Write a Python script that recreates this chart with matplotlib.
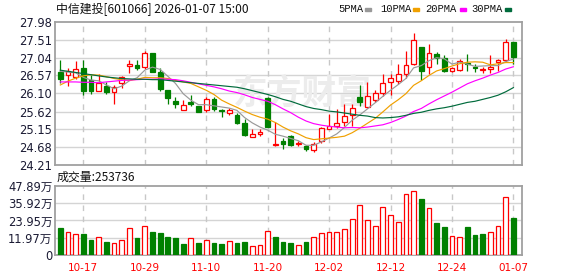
import matplotlib
matplotlib.use("Agg")
import matplotlib.pyplot as plt
import numpy as np

plt.rcParams['font.family'] = ['DejaVu Sans', 'Noto Sans CJK SC']

# ---------------- data ----------------
dates = ["10-14", "10-15", "10-16", "10-17", "10-20", "10-21", "10-22", "10-23", "10-24", "10-27",
         "10-28", "10-29", "10-30", "10-31", "11-03", "11-04", "11-05", "11-06", "11-07", "11-10",
         "11-11", "11-12", "11-13", "11-14", "11-17", "11-18", "11-19", "11-20", "11-21", "11-24",
         "11-25", "11-26", "11-27", "11-28", "12-01", "12-02", "12-03", "12-04", "12-05", "12-08",
         "12-09", "12-10", "12-11", "12-12", "12-15", "12-16", "12-17", "12-18", "12-19", "12-22",
         "12-23", "12-24", "12-25", "12-26", "12-29", "12-30", "12-31", "01-05", "01-06", "01-07"]
opens = [26.66, 26.58, 26.54, 26.78, 26.45, 26.17, 26.30, 26.14, 26.36, 26.82,
         26.84, 26.80, 27.15, 26.65, 26.19, 25.90, 25.67, 25.86, 25.76, 25.66,
         25.94, 25.67, 25.57, 25.52, 25.33, 24.95, 25.03, 25.98, 24.74, 24.85,
         24.98, 24.76, 24.71, 24.60, 24.83, 25.17, 25.23, 25.34, 25.52, 26.00,
         25.74, 25.93, 26.11, 26.40, 26.42, 26.60, 26.86, 27.32, 26.79, 27.13,
         27.04, 26.69, 26.72, 26.91, 26.79, 26.71, 26.75, 26.92, 26.97, 27.45]
highs = [26.99, 26.76, 26.95, 26.97, 26.57, 26.62, 26.40, 26.32, 26.55, 26.97,
         26.99, 27.21, 27.16, 26.78, 26.20, 25.99, 25.92, 26.05, 25.77, 26.01,
         26.01, 25.68, 25.70, 25.59, 25.43, 25.17, 25.17, 26.00, 25.35, 24.91,
         25.00, 24.84, 24.75, 24.82, 25.21, 25.56, 25.69, 25.81, 25.83, 26.31,
         26.40, 26.20, 26.60, 26.60, 26.86, 27.21, 27.69, 27.33, 27.41, 27.19,
         27.10, 26.80, 27.01, 27.13, 26.86, 26.80, 27.10, 27.01, 27.52, 27.45]
lows = [26.36, 26.29, 26.49, 26.05, 26.07, 26.16, 26.09, 25.82, 26.23, 26.64,
        26.71, 26.75, 26.66, 26.16, 25.81, 25.70, 25.66, 25.76, 25.61, 25.61,
        25.64, 25.48, 25.52, 25.30, 24.97, 24.95, 24.98, 25.21, 24.72, 24.62,
        24.70, 24.71, 24.59, 24.55, 24.80, 25.17, 25.19, 25.23, 25.23, 25.76,
        25.72, 25.87, 26.02, 26.05, 26.35, 26.51, 26.84, 26.44, 26.60, 26.88,
        26.66, 26.65, 26.70, 26.69, 26.66, 26.64, 26.63, 26.70, 26.92, 26.88]
closes = [26.47, 26.70, 26.74, 26.17, 26.16, 26.38, 26.14, 26.26, 26.52, 26.86,
          26.77, 27.15, 26.67, 26.21, 25.97, 25.81, 25.78, 25.83, 25.62, 25.94,
          25.69, 25.63, 25.66, 25.32, 24.99, 25.03, 25.08, 25.22, 24.77, 24.76,
          24.73, 24.79, 24.62, 24.77, 25.19, 25.23, 25.32, 25.49, 25.72, 25.87,
          26.03, 26.12, 26.38, 26.51, 26.60, 26.84, 27.50, 26.69, 27.15, 27.04,
          26.69, 26.77, 26.95, 26.88, 26.77, 26.75, 26.79, 26.97, 27.44, 27.06]
# volume in 万手
volumes = [19.0, 16.0, 14.6, 14.6, 10.6, 12.3, 9.0, 8.1, 10.4, 18.5,
           11.8, 19.9, 16.2, 15.3, 12.5, 11.8, 7.6, 11.6, 8.3, 10.4,
           8.1, 7.6, 9.7, 8.1, 8.8, 6.2, 6.9, 16.7, 12.5, 9.0,
           8.1, 6.7, 9.0, 12.5, 15.0, 15.7, 15.7, 17.8, 24.8, 34.5,
           24.1, 19.9, 33.1, 27.5, 22.9, 42.1, 44.2, 38.9, 32.4, 22.2,
           19.4, 13.0, 12.3, 19.4, 13.9, 14.6, 15.7, 20.1, 40.0, 25.37]
ma5 = [26.68, 26.66, 26.64, 26.52, 26.45, 26.43, 26.32, 26.22, 26.29, 26.43,
       26.51, 26.71, 26.79, 26.73, 26.55, 26.36, 26.09, 25.92, 25.80, 25.80,
       25.77, 25.74, 25.71, 25.65, 25.46, 25.32, 25.21, 25.13, 25.02, 24.97,
       24.91, 24.85, 24.73, 24.73, 24.82, 24.92, 25.03, 25.20, 25.39, 25.53,
       25.69, 25.85, 26.02, 26.18, 26.33, 26.49, 26.77, 26.83, 26.96, 27.04,
       27.01, 26.87, 26.92, 26.87, 26.81, 26.82, 26.83, 26.83, 26.94, 27.00]
ma10 = [26.32, 26.42, 26.50, 26.56, 26.59, 26.58, 26.54, 26.49, 26.46, 26.44,
        26.47, 26.52, 26.51, 26.51, 26.49, 26.44, 26.40, 26.36, 26.27, 26.18,
        26.07, 25.92, 25.82, 25.73, 25.63, 25.54, 25.47, 25.42, 25.33, 25.21,
        25.11, 25.03, 24.93, 24.88, 24.90, 24.92, 24.94, 24.97, 25.06, 25.18,
        25.31, 25.44, 25.61, 25.79, 25.93, 26.09, 26.31, 26.43, 26.57, 26.69,
        26.75, 26.82, 26.88, 26.92, 26.93, 26.92, 26.85, 26.88, 26.91, 26.91]
ma20 = [26.40, 26.40, 26.40, 26.39, 26.39, 26.38, 26.40, 26.42, 26.44, 26.45,
        26.46, 26.47, 26.47, 26.48, 26.47, 26.46, 26.43, 26.39, 26.35, 26.31,
        26.27, 26.22, 26.16, 26.12, 26.06, 25.99, 25.94, 25.89, 25.80, 25.69,
        25.59, 25.47, 25.37, 25.30, 25.26, 25.23, 25.21, 25.19, 25.20, 25.19,
        25.21, 25.24, 25.27, 25.33, 25.41, 25.50, 25.62, 25.70, 25.82, 25.93,
        26.03, 26.13, 26.24, 26.35, 26.43, 26.50, 26.58, 26.65, 26.74, 26.80]
ma30 = [26.71, 26.68, 26.65, 26.62, 26.59, 26.56, 26.53, 26.51, 26.49, 26.48,
        26.47, 26.47, 26.46, 26.46, 26.44, 26.42, 26.40, 26.38, 26.36, 26.34,
        26.32, 26.30, 26.28, 26.26, 26.22, 26.17, 26.12, 26.07, 26.01, 25.94,
        25.89, 25.82, 25.75, 25.70, 25.67, 25.63, 25.61, 25.58, 25.55, 25.52,
        25.50, 25.46, 25.45, 25.46, 25.48, 25.52, 25.57, 25.60, 25.65, 25.69,
        25.72, 25.76, 25.81, 25.86, 25.89, 25.94, 25.99, 26.05, 26.14, 26.25]
price_ticks = [24.21, 24.68, 25.15, 25.62, 26.10, 26.57, 27.04, 27.51, 27.98]
vol_ticks = [0, 11.97, 23.95, 35.92, 47.89]
vol_tick_labels = ["0", "11.97万", "23.95万", "35.92万", "47.89万"]
date_tick_labels = ["10-17", "10-29", "11-10", "11-20", "12-02", "12-12", "12-24", "01-07"]
ma_names = ["5PMA", "10PMA", "20PMA", "30PMA"]
title_text = "中信建投[601066] 2026-01-07 15:00"
vol_title = "成交量:253736"

# ---------------- style ----------------
RED = "#ff0000"
GREEN = "#008000"
MA_COLORS = ["#999999", "#f0a000", "#ff00ff", "#006b3c"]
GRID = "#d4d4d4"
FRAME = "#a0a0a0"
LABEL = "#1a1a33"

W, H = 578, 276
fig = plt.figure(figsize=(W / 100, H / 100), dpi=100)


def fx(px):
    return px / W


def fy(py):
    return 1 - py / H


L, R = 55, 522
ax = fig.add_axes([fx(L), fy(165), (R - L) / W, (165 - 22) / H])
axv = fig.add_axes([fx(L), fy(255), (R - L) / W, (255 - 186) / H])

x = np.arange(len(dates))
xlim = (-0.69, 60.12)
tick_pos = [dates.index(d) for d in date_tick_labels]

# ---- main panel ----
ax.set_xlim(*xlim)
ax.set_ylim(price_ticks[0], price_ticks[-1])
ax.set_yticks(price_ticks)
ax.set_yticklabels([f"{v:.2f}" for v in price_ticks])
ax.set_xticks(tick_pos)
ax.set_xticklabels([])
for v in price_ticks[1:-1]:
    ax.axhline(v, color=GRID, lw=1.0, zorder=0)
for p in tick_pos:
    ax.axvline(p, color="#c8c8c8", lw=1.0, ls=(0, (4, 4)), zorder=0)

ax.text(0.53, 0.5, "东方财富", transform=ax.transAxes, fontsize=25,
        color="#ececec", ha="center", va="center", zorder=0.5,
        family=["Noto Sans CJK SC"], fontweight="bold", style="italic")

bw = 0.62
for i in x:
    o, h, l, c = opens[i], highs[i], lows[i], closes[i]
    up = c >= o
    col = RED if up else GREEN
    ax.vlines(i, l, h, color=col, lw=0.9, zorder=2)
    bot = min(o, c)
    ht = max(abs(c - o), 0.012)
    ax.bar(i, ht, bottom=bot, width=bw, facecolor="white" if up else GREEN,
           edgecolor=col, linewidth=0.9, zorder=3)

for vals, colr in zip([ma5, ma10, ma20, ma30], MA_COLORS):
    ax.plot(x, vals, color=colr, lw=0.85, zorder=4)

# ---- volume panel ----
axv.set_xlim(*xlim)
axv.set_ylim(vol_ticks[0], vol_ticks[-1])
axv.set_yticks(vol_ticks)
axv.set_yticklabels(vol_tick_labels)
axv.set_xticks(tick_pos)
axv.set_xticklabels(date_tick_labels, color=RED, fontsize=7.5)
for v in vol_ticks[1:-1]:
    axv.axhline(v, color=GRID, lw=1.0, zorder=0)
for p in tick_pos:
    axv.axvline(p, color="#c8c8c8", lw=1.0, ls=(0, (4, 4)), zorder=0)
for i in x:
    up = closes[i] >= closes[i - 1] if i > 0 else False
    col = RED if up else GREEN
    axv.bar(i, volumes[i], width=bw, facecolor="white" if up else GREEN,
            edgecolor=col, linewidth=0.9, zorder=3)

for a in (ax, axv):
    for s in a.spines.values():
        s.set_color(FRAME)
        s.set_linewidth(1.3)
    a.tick_params(axis="y", length=0, pad=2, labelsize=8.3, labelcolor=LABEL)
    a.tick_params(axis="x", length=0, pad=6)

# ---- texts ----
fig.text(fx(56), fy(9), title_text, fontsize=8.6, va="center", ha="left",
         family=["Noto Sans CJK SC"], color="#111111")
fig.text(fx(57), fy(177), vol_title, fontsize=8.6, va="center", ha="left",
         family=["Noto Sans CJK SC"], color="#111111")

leg_x = [338, 380, 425, 471]
dash_x = [365, 413, 460, 505]
for name, lx, dx, colr in zip(ma_names, leg_x, dash_x, MA_COLORS):
    fig.text(fx(lx), fy(9.5), name, fontsize=7.6, va="center", ha="left",
             family=["Liberation Mono"], color="#111111")
    fig.patches.append(plt.Rectangle((fx(dx), fy(11)), 6 / W, 2.5 / H,
                                     transform=fig.transFigure, color=colr))

fig.savefig("out.png", dpi=100)
